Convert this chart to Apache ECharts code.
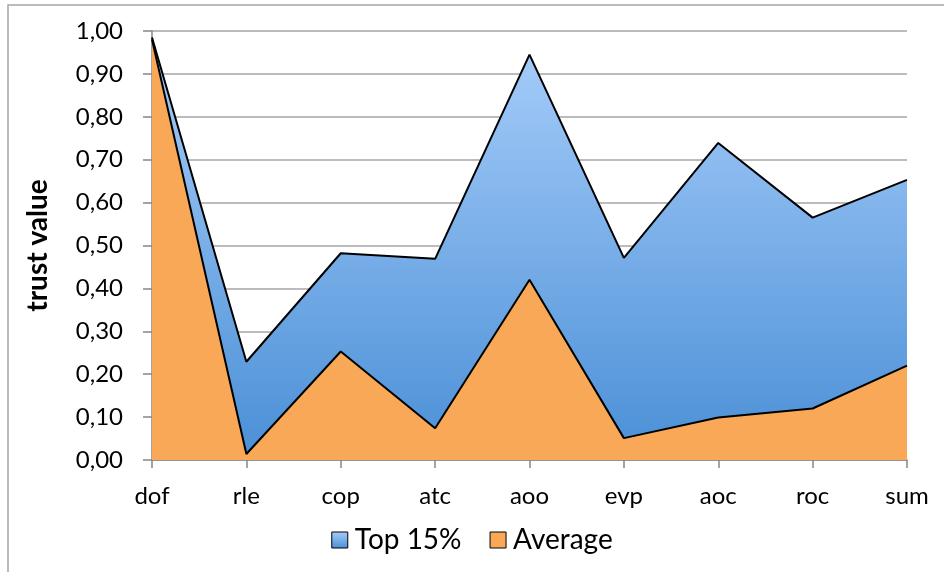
<!DOCTYPE html>
<html><head><meta charset="utf-8">
<script src="https://cdn.jsdelivr.net/npm/echarts@6/dist/echarts.min.js"></script>
<style>html,body{margin:0;padding:0;background:#fff}#c{width:944px;height:572px}</style>
</head><body><div id="c"></div>
<script>
const categories = ['dof','rle','cop','atc','aoo','evp','aoc','roc','sum'];
const top15 = [0.985,0.229,0.482,0.469,0.945,0.471,0.739,0.565,0.653];
const average = [0.98,0.014,0.253,0.074,0.42,0.051,0.099,0.12,0.22];
const yTicks = {min:0, max:1, interval:0.1};

const font = 'Lato, "Open Sans", sans-serif';
const chart = echarts.init(document.getElementById('c'));
chart.setOption({
  animation:false,
  backgroundColor:'#fff',
  graphic:[{type:'rect',shape:{x:8,y:5,width:945,height:580},style:{fill:'none',stroke:'#a6a6a6',lineWidth:1.5},silent:true}],
  grid:{left:152,right:37,top:31,bottom:112},
  legend:{
    bottom:13,left:'center',itemWidth:16,itemHeight:16,itemGap:28,
    textStyle:{fontFamily:font,fontSize:28,color:'#000',padding:[0,0,0,2]},
    icon:'rect',
    data:[{name:'Top 15%',itemStyle:{borderColor:'#000',borderWidth:1}},{name:'Average',itemStyle:{borderColor:'#000',borderWidth:1}}]
  },
  xAxis:{
    type:'category',data:categories,boundaryGap:false,
    axisLine:{lineStyle:{color:'#868686',width:1.5}},
    axisTick:{show:true,length:8,lineStyle:{color:'#868686',width:1.5},alignWithLabel:true},
    axisLabel:{fontFamily:font,fontSize:24,color:'#000',margin:24}
  },
  yAxis:{
    type:'value',min:yTicks.min,max:yTicks.max,interval:yTicks.interval,
    name:'trust value',nameLocation:'middle',nameGap:100,nameRotate:90,
    nameTextStyle:{fontFamily:font,fontSize:28,fontWeight:'bold',color:'#000'},
    axisLine:{show:true,lineStyle:{color:'#868686',width:1.5}},
    axisTick:{show:true,length:9,lineStyle:{color:'#868686',width:1.5}},
    splitLine:{lineStyle:{color:'#a6a6a6',width:1.5}},
    axisLabel:{fontFamily:font,fontSize:24,color:'#000',margin:29,formatter:v=>v.toFixed(2).replace('.',',')}
  },
  series:[
    {name:'Top 15%',type:'line',data:top15,symbol:'none',z:2,
     color:new echarts.graphic.LinearGradient(0,0,0,1,[{offset:0,color:'#a7cdfa'},{offset:1,color:'#4a8fd6'}]),
     lineStyle:{color:'#000',width:2},
     areaStyle:{color:new echarts.graphic.LinearGradient(0,0,0,1,[{offset:0,color:'#a7cdfa'},{offset:1,color:'#4a8fd6'}]),opacity:1}},
    {name:'Average',type:'line',data:average,symbol:'none',z:3,
     color:'#f9a857',
     lineStyle:{color:'#000',width:2},
     areaStyle:{color:'#f9a857',opacity:1}}
  ]
});
</script></body></html>
